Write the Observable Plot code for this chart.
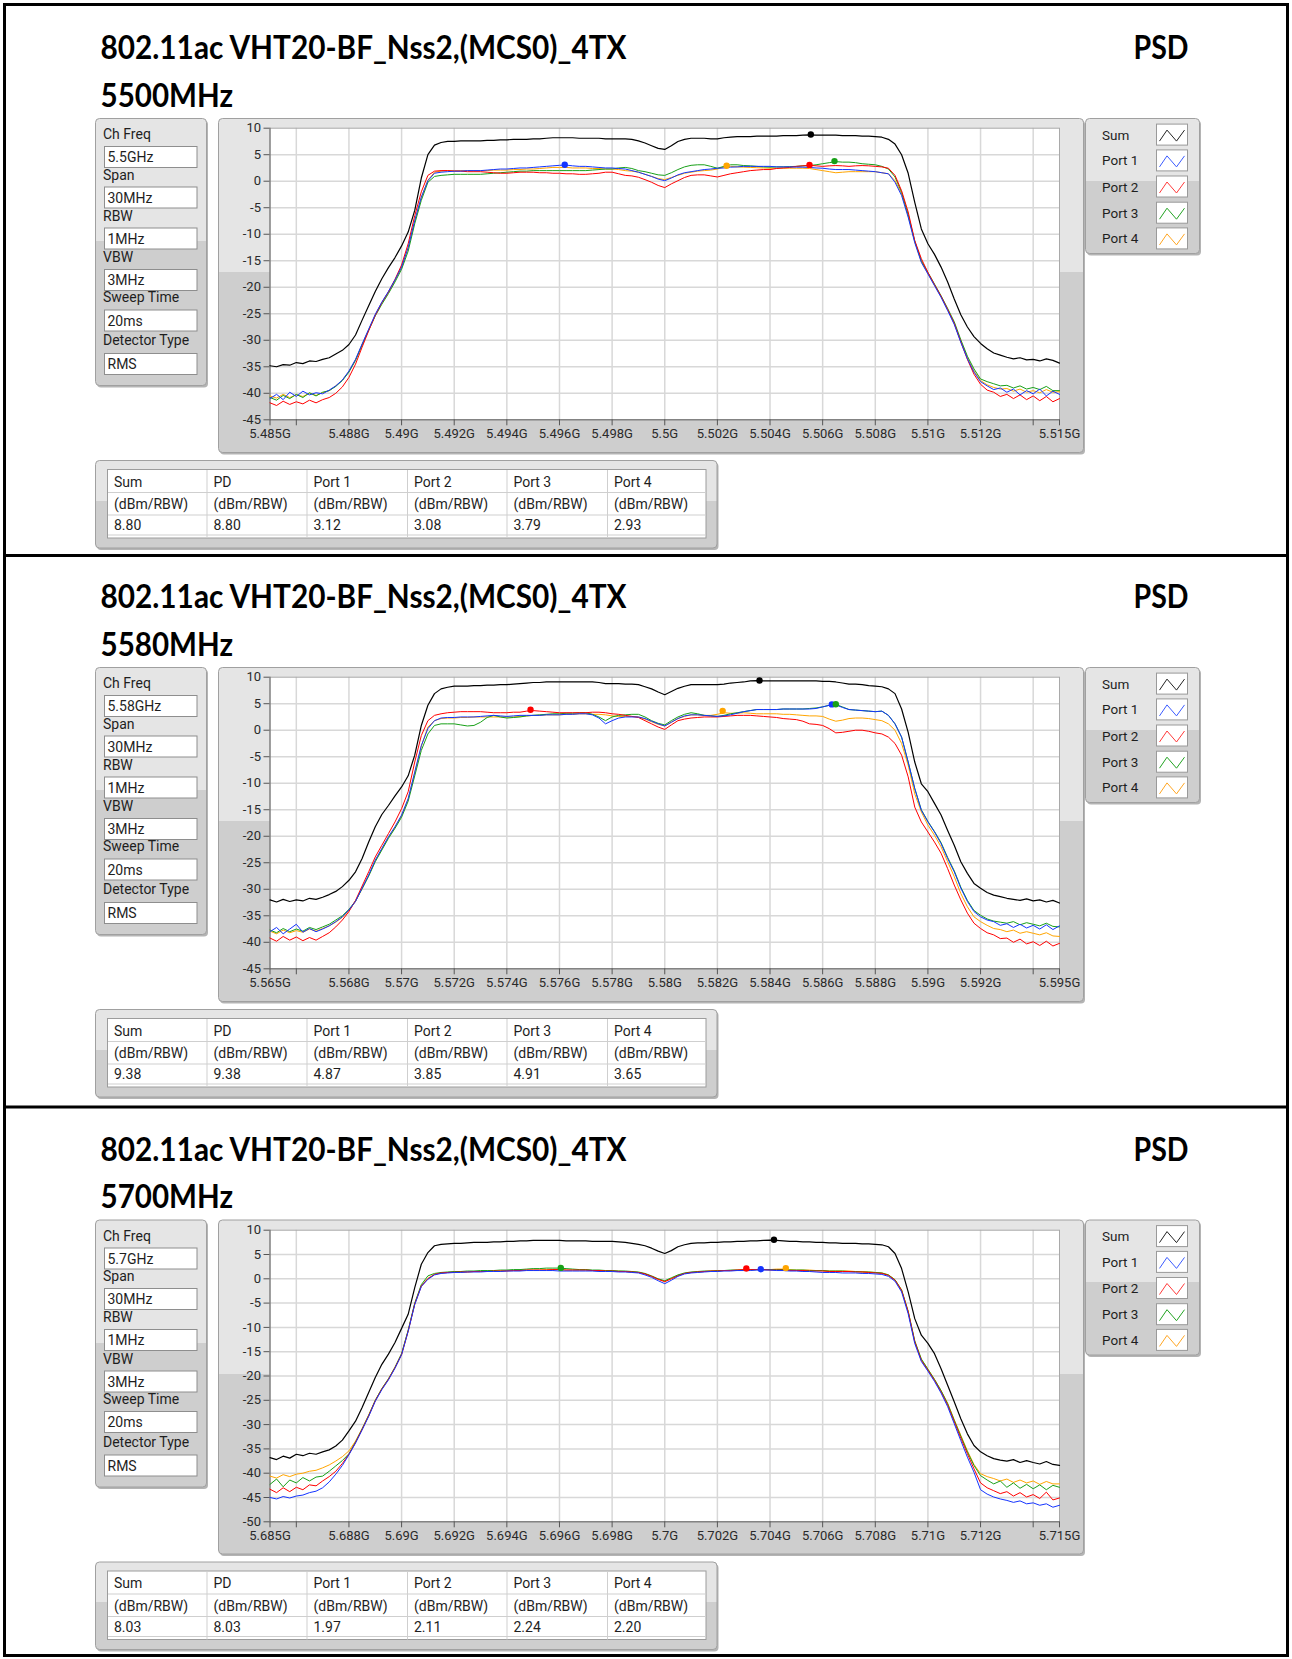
<!DOCTYPE html>
<html>
<head>
<meta charset="utf-8">
<script src="https://cdn.jsdelivr.net/npm/d3@7"></script>
<script src="https://cdn.jsdelivr.net/npm/@observablehq/plot@0.6"></script>
<style>
html,body{margin:0;padding:0;background:#fff;}
#page{position:relative;width:1292px;height:1659px;overflow:hidden;background:#fff;}
#decor{position:absolute;left:0;top:0;}
.chart{position:absolute;}
.chart svg{display:block;}
</style>
</head>
<body>
<div id="page"><svg id="decor" width="1292" height="1659"></svg></div>
<script>
// ---------------- DATA ----------------
// sweep grid: offset from channel centre in MHz, -15 ... +15, step 0.25 MHz
const offsets = d3.range(-15, 15.0001, 0.25);

const seriesNames = ["Sum", "Port 1", "Port 2", "Port 3", "Port 4"];
const seriesColors = ["#000000", "#1434ff", "#ff0000", "#18a018", "#ffa500"];
const swatchColors = ["#222222", "#3c5cff", "#ff3a3a", "#22a322", "#ffa623"];

const centerMHz = [5500, 5580, 5700];
const freqTitles = ["5500MHz", "5580MHz", "5700MHz"];
const chFreqText = ["5.5GHz", "5.58GHz", "5.7GHz"];
const yMins = [-45, -45, -50];

const xTickOffsets = [-15, -14, -12, -10, -8, -6, -4, -2, 0, 2, 4, 6, 8, 10, 12, 14, 15];
const xGridOffsets = [-14, -12, -10, -8, -6, -4, -2, 0, 2, 4, 6, 8, 10, 12, 14];
const yTicks45 = [10, 5, 0, -5, -10, -15, -20, -25, -30, -35, -40, -45];
const yTicks50 = [10, 5, 0, -5, -10, -15, -20, -25, -30, -35, -40, -45, -50];

const paramLabels = ["Ch Freq", "Span", "RBW", "VBW", "Sweep Time", "Detector Type"];
const paramRest = ["30MHz", "1MHz", "3MHz", "20ms", "RMS"];

const tableHeaders = ["Sum", "PD", "Port 1", "Port 2", "Port 3", "Port 4"];
const tableUnit = "(dBm/RBW)";
const table5500 = ["8.80", "8.80", "3.12", "3.08", "3.79", "2.93"];
const table5580 = ["9.38", "9.38", "4.87", "3.85", "4.91", "3.65"];
const table5700 = ["8.03", "8.03", "1.97", "2.11", "2.24", "2.20"];

// peak markers: offset (MHz) and level (dBm) for Sum, Port1..Port4
const markF5500 = [5.55, -3.8, 5.5, 6.45, 2.35];
const markV5500 = [8.80, 3.12, 3.08, 3.79, 2.93];
const markF5580 = [3.6, 6.35, -5.1, 6.5, 2.2];
const markV5580 = [9.38, 4.87, 3.85, 4.91, 3.65];
const markF5700 = [4.15, 3.65, 3.1, -3.95, 4.6];
const markV5700 = [8.03, 1.97, 2.11, 2.24, 2.20];

// ---- 5500 MHz ----
const sum5500 = [
-34.8,-35.0,-34.6,-34.7,-34.2,-34.4,-33.9,-34.0,
-33.6,-33.3,-32.6,-31.9,-30.8,-29.0,-26.2,-23.5,
-20.8,-18.4,-16.3,-14.4,-12.2,-9.6,-5.5,0.6,
5.0,6.8,7.3,7.5,7.5,7.6,7.6,7.6,
7.6,7.7,7.7,7.8,7.8,7.9,7.9,7.9,
8.0,8.0,8.1,8.2,8.2,8.2,8.2,8.1,
8.1,8.1,8.1,8.0,8.0,8.0,8.0,7.9,
7.6,7.2,6.7,6.2,6.0,6.7,7.5,7.9,
8.1,8.1,8.1,8.0,8.0,8.2,8.3,8.4,
8.4,8.4,8.5,8.5,8.5,8.5,8.6,8.6,
8.6,8.7,8.75,8.7,8.7,8.7,8.7,8.6,
8.6,8.6,8.5,8.5,8.4,8.3,7.9,7.0,
5.0,1.5,-4.0,-9.0,-11.8,-13.8,-16.2,-19.0,
-22.2,-25.2,-27.5,-29.3,-30.6,-31.6,-32.4,-32.8,
-33.2,-33.5,-33.3,-33.7,-33.6,-33.9,-33.5,-33.8,
-34.3];
const p1_5500 = [
-41.0,-40.2,-41.2,-39.8,-40.6,-39.6,-40.3,-39.9,
-40.1,-39.4,-38.6,-37.5,-35.8,-33.6,-30.7,-27.9,
-25.1,-22.8,-20.8,-18.6,-16.2,-12.5,-7.4,-3.0,
0.1,1.5,1.7,1.8,1.9,1.9,2.0,2.0,
2.0,2.1,2.2,2.3,2.3,2.4,2.5,2.5,
2.6,2.7,2.8,2.9,3.0,3.05,2.9,2.8,
2.8,2.7,2.6,2.5,2.5,2.4,2.3,2.0,
1.7,1.3,0.9,0.4,0.1,0.6,1.2,1.6,
1.8,2.0,2.2,2.3,2.45,2.5,2.65,2.7,
2.8,2.8,2.8,2.8,2.8,2.7,2.7,2.7,
2.65,2.65,2.6,2.5,2.45,2.3,2.2,2.2,
2.2,2.1,2.0,1.9,1.8,1.6,1.4,-0.2,
-2.7,-6.8,-11.6,-15.3,-17.5,-19.7,-21.9,-24.4,
-27.0,-30.4,-33.5,-36.0,-37.8,-38.6,-39.3,-39.0,
-39.8,-39.2,-40.3,-39.5,-40.1,-39.2,-40.5,-39.6,
-40.2];
const p2_5500 = [
-41.8,-42.3,-41.5,-42.1,-41.6,-42.0,-41.3,-41.8,
-41.2,-40.8,-40.0,-38.8,-37.0,-34.5,-31.3,-28.2,
-25.3,-22.9,-20.9,-18.5,-15.8,-11.8,-6.5,-2.0,
1.1,1.9,2.0,2.0,1.9,1.9,1.8,1.8,
1.8,1.7,1.6,1.5,1.5,1.6,1.7,1.7,
1.7,1.6,1.6,1.5,1.5,1.4,1.4,1.3,
1.3,1.4,1.5,1.7,1.7,1.4,1.1,1.0,
0.75,0.3,-0.2,-0.8,-1.2,-0.5,0.1,0.7,
1.1,1.2,1.2,1.0,0.8,1.1,1.4,1.6,
1.8,2.0,2.1,2.2,2.2,2.4,2.5,2.6,
2.8,2.9,3.0,2.9,2.8,2.9,2.95,2.9,
2.8,2.9,2.95,2.9,2.8,2.7,2.45,1.1,
-1.8,-5.8,-11.2,-14.6,-17.2,-19.5,-21.7,-24.2,
-26.8,-30.3,-33.6,-36.4,-38.3,-39.4,-39.8,-40.6,
-40.2,-41.0,-40.3,-41.2,-40.5,-41.4,-40.6,-41.6,
-41.0];
const p3_5500 = [
-40.8,-41.3,-40.4,-41.0,-40.2,-40.8,-39.9,-40.5,
-39.8,-39.5,-38.7,-37.6,-36.0,-33.8,-30.9,-28.1,
-25.4,-23.2,-21.2,-19.0,-16.6,-13.2,-8.0,-3.6,
-0.2,0.9,1.1,1.2,1.3,1.3,1.3,1.3,
1.3,1.4,1.5,1.6,1.7,1.8,1.9,1.9,
2.0,2.0,2.0,2.0,2.0,2.0,2.0,2.0,
2.0,2.1,2.2,2.3,2.3,2.5,2.6,2.4,
2.0,1.8,1.5,1.2,1.1,1.6,2.2,2.7,
3.0,3.1,3.1,2.8,2.45,2.8,3.1,3.1,
2.95,2.9,2.8,2.7,2.65,2.7,2.7,2.75,
2.8,2.9,2.95,3.1,3.3,3.5,3.7,3.6,
3.6,3.5,3.3,3.2,3.1,2.8,2.3,0.8,
-2.1,-6.3,-11.3,-15.0,-17.2,-19.4,-21.6,-24.0,
-26.5,-29.9,-33.0,-35.4,-37.3,-37.8,-38.2,-38.6,
-38.5,-39.0,-38.6,-39.2,-38.9,-39.3,-38.7,-39.5,
-39.5];
const p4_5500 = [
-40.5,-40.9,-40.2,-40.8,-40.3,-40.6,-40.0,-40.4,
-39.9,-39.5,-38.6,-37.5,-35.9,-33.7,-30.8,-28.0,
-25.2,-22.9,-20.9,-18.7,-16.3,-12.6,-7.5,-3.1,
0.2,1.7,1.9,2.0,2.0,2.0,2.0,2.0,
2.0,2.0,2.1,2.1,2.1,2.2,2.2,2.3,
2.3,2.4,2.5,2.6,2.6,2.6,2.5,2.5,
2.5,2.4,2.4,2.3,2.3,2.2,2.0,1.9,
1.7,1.3,0.9,0.5,0.3,0.7,1.1,1.5,
1.7,1.9,2.0,2.1,2.3,2.7,2.8,2.7,
2.65,2.6,2.55,2.5,2.45,2.45,2.45,2.45,
2.45,2.45,2.4,2.2,2.0,1.8,1.6,1.7,
1.8,1.8,1.8,1.8,1.8,1.6,1.4,0.1,
-2.4,-6.5,-11.4,-15.2,-17.4,-19.6,-21.8,-24.2,
-26.8,-30.2,-33.3,-35.8,-37.6,-38.4,-38.9,-39.2,
-39.1,-39.6,-39.2,-39.8,-39.5,-39.9,-39.3,-39.8,
-39.7];

// ---- 5580 MHz ----
const sum5580 = [
-32.0,-32.4,-31.9,-32.3,-32.0,-32.2,-31.7,-31.9,
-31.5,-31.0,-30.4,-29.5,-28.3,-26.7,-24.2,-21.1,
-18.2,-15.9,-14.2,-12.4,-10.7,-8.6,-4.7,0.9,
4.7,6.9,7.8,8.1,8.3,8.3,8.3,8.4,
8.4,8.5,8.5,8.6,8.6,8.7,8.8,8.9,
9.0,9.0,9.1,9.1,9.1,9.1,9.1,9.1,
9.1,9.1,9.0,8.8,8.8,8.8,8.7,8.7,
8.6,8.2,7.8,7.2,6.7,7.3,7.9,8.3,
8.6,8.6,8.6,8.6,8.6,8.7,8.9,9.0,
9.1,9.3,9.35,9.3,9.3,9.3,9.3,9.3,
9.3,9.3,9.3,9.3,9.2,9.2,9.1,8.9,
8.7,8.7,8.6,8.4,8.3,8.2,7.8,6.9,
4.0,-0.4,-6.0,-10.1,-11.6,-13.8,-16.0,-18.9,
-21.7,-24.8,-27.0,-28.9,-29.8,-30.6,-31.1,-31.4,
-31.7,-31.9,-32.1,-31.8,-32.2,-32.0,-32.4,-32.1,
-32.6];
const p1_5580 = [
-38.0,-37.2,-38.4,-37.5,-36.6,-38.1,-37.4,-38.0,
-37.5,-36.9,-36.1,-35.2,-33.9,-32.3,-29.8,-27.3,
-24.5,-22.3,-20.1,-18.2,-16.0,-12.9,-7.9,-2.9,
0.3,1.8,2.3,2.4,2.4,2.5,2.5,2.5,
2.6,2.7,2.8,2.7,2.6,2.7,2.8,2.8,
2.8,2.8,2.9,2.9,2.9,3.0,3.0,3.1,
3.1,2.9,2.3,1.2,1.8,2.3,2.5,2.5,
2.5,2.2,1.7,1.2,0.8,1.5,2.2,2.7,
2.9,2.9,2.8,2.7,2.6,2.7,2.9,3.2,
3.5,3.7,3.9,3.9,3.9,3.9,4.0,4.0,
4.0,4.0,4.0,4.1,4.4,4.7,4.8,4.3,
3.9,3.8,3.7,3.6,3.5,3.6,2.8,1.2,
-1.3,-6.0,-11.0,-15.1,-17.3,-19.2,-21.4,-24.2,
-26.7,-29.8,-32.3,-34.2,-35.2,-35.8,-36.1,-36.8,
-36.5,-37.2,-36.6,-37.3,-36.8,-37.5,-36.7,-37.6,
-36.9];
const p2_5580 = [
-39.2,-39.8,-38.9,-39.6,-39.0,-39.7,-39.1,-39.6,
-38.9,-38.2,-37.1,-35.8,-34.2,-32.1,-29.4,-26.7,
-23.9,-21.7,-19.5,-17.3,-14.8,-11.6,-6.0,-1.0,
1.8,2.8,3.1,3.3,3.4,3.5,3.5,3.5,
3.5,3.4,3.3,3.3,3.3,3.4,3.4,3.6,
3.7,3.6,3.5,3.4,3.3,3.3,3.3,3.3,
3.3,3.4,3.4,3.3,3.1,3.0,2.8,2.6,
2.4,1.8,1.2,0.6,0.15,1.0,1.8,2.1,
2.3,2.4,2.5,2.5,2.5,2.6,2.7,2.8,
2.8,2.8,2.7,2.6,2.5,2.4,2.2,2.1,
2.0,1.7,1.2,1.1,0.9,0.3,-0.5,-0.4,
-0.2,0.0,0.0,-0.2,-0.5,-0.7,-1.3,-2.5,
-4.7,-8.8,-14.5,-17.3,-19.2,-21.1,-23.2,-26.1,
-29.2,-32.0,-34.5,-36.4,-37.4,-38.2,-38.6,-39.3,
-39.2,-40.0,-39.4,-40.3,-39.9,-40.6,-39.8,-40.7,
-40.2];
const p3_5580 = [
-37.7,-38.2,-37.4,-38.0,-37.5,-37.9,-37.2,-37.6,
-37.1,-36.6,-35.8,-35.0,-33.8,-32.2,-29.9,-27.5,
-24.8,-22.6,-20.4,-18.5,-16.4,-13.4,-8.6,-3.8,
-0.7,0.9,1.2,1.2,1.2,1.0,0.8,0.9,
1.5,2.4,2.8,2.5,2.3,2.4,2.5,2.7,
2.8,2.9,3.0,3.1,3.1,3.2,3.2,3.3,
3.3,3.0,2.5,1.8,2.5,2.8,2.9,3.0,
3.0,2.5,1.8,1.3,1.0,1.8,2.5,3.0,
3.3,3.1,2.8,2.7,2.6,2.8,3.1,3.3,
3.5,3.7,3.9,3.9,3.9,3.9,4.0,4.0,
4.0,4.0,4.1,4.2,4.4,4.7,4.85,4.4,
3.9,3.8,3.7,3.6,3.5,3.6,2.8,1.2,
-1.3,-6.0,-11.0,-15.0,-17.2,-19.1,-21.2,-24.0,
-26.5,-29.6,-32.1,-34.0,-34.9,-35.6,-36.0,-36.2,
-36.4,-36.1,-36.7,-36.3,-36.6,-36.9,-36.4,-37.0,
-37.1];
const p4_5580 = [
-37.9,-38.4,-37.7,-38.2,-37.8,-38.1,-37.5,-37.9,
-37.4,-36.9,-36.2,-35.3,-34.0,-32.3,-29.9,-27.4,
-24.6,-22.4,-20.2,-18.3,-16.1,-13.0,-8.0,-3.0,
0.6,1.8,2.2,2.3,2.3,2.4,2.4,2.5,
2.5,2.5,2.5,2.5,2.5,2.5,2.6,2.7,
2.8,2.8,2.9,2.9,2.9,3.0,3.0,3.1,
3.1,3.0,3.0,2.9,2.7,2.6,2.6,2.6,
2.5,2.1,1.6,1.1,0.8,1.5,2.2,2.6,
2.9,2.9,2.8,2.8,3.0,3.3,3.2,3.2,
3.3,3.2,3.1,3.1,3.1,3.1,3.0,3.0,
2.9,2.8,2.7,2.7,2.6,2.1,1.7,1.9,
2.2,2.3,2.3,2.2,2.0,1.8,1.2,0.0,
-2.5,-6.6,-12.0,-15.4,-17.9,-19.8,-22.0,-24.8,
-27.6,-30.8,-33.3,-35.2,-36.1,-36.8,-37.4,-37.6,
-38.0,-37.7,-38.3,-38.0,-38.3,-38.6,-38.2,-38.8,
-38.9];

// ---- 5700 MHz ----
const sum5700 = [
-36.8,-37.2,-36.5,-36.9,-36.1,-36.4,-35.9,-36.1,
-35.6,-35.2,-34.4,-33.2,-31.3,-29.3,-26.5,-23.4,
-20.3,-17.6,-15.5,-13.1,-10.2,-7.3,-1.8,3.0,
5.4,6.8,7.1,7.2,7.3,7.3,7.4,7.5,
7.5,7.5,7.6,7.6,7.7,7.7,7.8,7.8,
7.9,7.9,7.9,7.9,7.9,7.8,7.8,7.8,
7.8,7.7,7.7,7.7,7.7,7.6,7.5,7.3,
7.1,6.8,6.3,5.7,5.2,5.8,6.6,7.0,
7.3,7.4,7.4,7.5,7.5,7.6,7.6,7.7,
7.7,7.8,7.8,7.9,7.95,7.9,7.8,7.7,
7.7,7.6,7.6,7.5,7.5,7.4,7.4,7.3,
7.3,7.3,7.2,7.2,7.1,7.0,6.6,5.2,
2.1,-2.7,-8.2,-11.6,-13.3,-15.4,-18.5,-21.9,
-25.3,-28.8,-31.9,-34.3,-35.6,-36.4,-37.0,-37.3,
-37.5,-37.2,-37.8,-37.4,-37.8,-38.1,-37.6,-38.2,
-38.4];
const p1_5700 = [
-45.0,-45.3,-44.8,-45.1,-44.7,-44.5,-44.0,-43.7,
-43.0,-41.8,-40.2,-38.4,-36.2,-33.8,-31.1,-28.3,
-25.2,-22.8,-20.8,-18.4,-15.6,-10.8,-5.3,-1.6,
-0.1,0.8,1.1,1.2,1.3,1.3,1.4,1.4,
1.4,1.5,1.5,1.5,1.6,1.6,1.6,1.7,
1.7,1.7,1.7,1.7,1.6,1.6,1.6,1.6,
1.6,1.6,1.5,1.5,1.5,1.4,1.4,1.3,
1.2,0.8,0.3,-0.4,-1.0,-0.3,0.5,1.0,
1.2,1.3,1.4,1.5,1.5,1.6,1.6,1.7,
1.7,1.7,1.8,1.8,1.8,1.7,1.7,1.6,
1.6,1.5,1.5,1.4,1.3,1.3,1.3,1.2,
1.2,1.2,1.1,1.1,1.0,0.9,0.5,-0.5,
-2.7,-7.2,-13.3,-17.0,-19.0,-21.1,-23.5,-26.3,
-29.8,-33.3,-36.7,-39.8,-43.4,-44.3,-44.9,-45.3,
-45.6,-46.0,-45.7,-46.3,-46.1,-46.6,-46.3,-47.0,
-46.6];
const p2_5700 = [
-43.3,-44.0,-43.0,-43.8,-42.9,-43.4,-42.4,-42.6,
-41.6,-40.7,-39.6,-38.0,-36.1,-33.7,-31.0,-28.2,
-25.1,-22.7,-20.7,-18.3,-15.6,-10.8,-5.2,-1.5,
0.0,0.9,1.2,1.3,1.35,1.4,1.4,1.5,
1.5,1.5,1.6,1.6,1.6,1.7,1.7,1.8,
1.8,1.8,1.8,1.9,1.9,1.8,1.8,1.8,
1.8,1.7,1.7,1.6,1.6,1.5,1.5,1.4,
1.3,1.0,0.5,-0.1,-0.6,0.0,0.6,1.1,
1.3,1.4,1.5,1.6,1.6,1.7,1.7,1.8,
1.9,1.9,1.9,1.9,1.8,1.8,1.8,1.7,
1.7,1.7,1.6,1.6,1.6,1.5,1.5,1.5,
1.5,1.4,1.4,1.3,1.2,1.1,0.7,-0.3,
-2.4,-6.8,-13.0,-16.8,-18.8,-20.9,-23.3,-26.0,
-29.4,-32.8,-36.0,-39.1,-42.0,-43.0,-43.6,-44.2,
-43.8,-44.7,-44.0,-44.9,-44.4,-45.2,-43.9,-45.5,
-45.1];
const p3_5700 = [
-42.3,-41.2,-42.8,-41.4,-42.0,-40.9,-41.6,-40.8,
-40.6,-39.6,-38.5,-37.4,-36.0,-33.6,-30.9,-28.1,
-25.0,-22.6,-20.6,-18.2,-15.4,-10.6,-5.0,-1.2,
0.6,1.1,1.3,1.4,1.5,1.5,1.6,1.6,
1.7,1.7,1.7,1.8,1.8,1.9,1.9,2.0,
2.1,2.1,2.2,2.2,2.2,2.1,2.0,1.9,
1.9,1.8,1.8,1.7,1.7,1.6,1.6,1.5,
1.4,1.1,0.6,0.0,-0.4,0.2,0.8,1.2,
1.4,1.5,1.6,1.6,1.7,1.7,1.8,1.8,
1.8,1.9,1.9,1.9,1.9,1.9,1.9,1.8,
1.8,1.8,1.7,1.7,1.7,1.6,1.6,1.6,
1.5,1.5,1.4,1.4,1.3,1.2,0.8,-0.2,
-2.3,-6.7,-12.8,-16.5,-18.6,-20.7,-23.0,-25.7,
-29.1,-32.4,-35.6,-38.4,-40.5,-41.4,-42.2,-41.6,
-42.9,-42.0,-43.1,-42.3,-43.2,-42.4,-43.4,-42.5,
-42.9];
const p4_5700 = [
-40.6,-41.0,-40.3,-40.7,-40.2,-40.0,-39.6,-39.4,
-38.9,-38.3,-37.5,-36.6,-35.4,-33.4,-30.8,-28.0,
-25.0,-22.6,-20.6,-18.2,-15.4,-10.6,-5.1,-1.4,
0.1,0.9,1.2,1.3,1.35,1.4,1.4,1.5,
1.5,1.5,1.6,1.6,1.7,1.7,1.7,1.8,
1.8,1.8,1.9,1.9,1.9,1.8,1.8,1.8,
1.8,1.7,1.7,1.7,1.6,1.6,1.5,1.4,
1.3,1.0,0.5,-0.1,-0.5,0.1,0.7,1.1,
1.3,1.4,1.5,1.6,1.6,1.7,1.7,1.8,
1.8,1.8,1.9,1.9,1.9,2.0,2.0,1.9,
1.8,1.8,1.8,1.7,1.7,1.6,1.6,1.6,
1.6,1.5,1.5,1.4,1.3,1.2,0.8,-0.2,
-2.3,-6.7,-12.8,-16.6,-18.6,-20.7,-23.0,-25.6,
-29.0,-32.2,-35.4,-38.2,-40.1,-40.7,-41.1,-41.6,
-41.2,-41.9,-41.4,-42.0,-41.6,-42.3,-41.7,-42.2,
-42.2];

// ---------------- LAYOUT ----------------
const panelOffsets = [0, 549, 1101.5];
const panels = [
  {fc: centerMHz[0], title: freqTitles[0], ch: chFreqText[0], ymin: yMins[0], yTicks: yTicks45,
   series: [sum5500, p1_5500, p2_5500, p3_5500, p4_5500], mf: markF5500, mv: markV5500, table: table5500},
  {fc: centerMHz[1], title: freqTitles[1], ch: chFreqText[1], ymin: yMins[1], yTicks: yTicks45,
   series: [sum5580, p1_5580, p2_5580, p3_5580, p4_5580], mf: markF5580, mv: markV5580, table: table5580},
  {fc: centerMHz[2], title: freqTitles[2], ch: chFreqText[2], ymin: yMins[2], yTicks: yTicks50,
   series: [sum5700, p1_5700, p2_5700, p3_5700, p4_5700], mf: markF5700, mv: markV5700, table: table5700}
];

const SMALL = "Roboto, 'Noto Sans', sans-serif";
const BIG = "Lato, 'Open Sans', sans-serif";

const page = document.getElementById("page");
const decor = d3.select("#decor");
const defs = decor.append("defs");
const grad = defs.append("linearGradient").attr("id", "bg").attr("x1", 0).attr("y1", 0).attr("x2", 0).attr("y2", 1);
[[0, "#e5e5e5"], [0.46, "#e5e5e5"], [0.46, "#cecece"], [1, "#cecece"]]
  .forEach(([o, c]) => grad.append("stop").attr("offset", o).attr("stop-color", c));

function txt(g, x, y, s, size, opt = {}) {
  const t = g.append("text").attr("x", x).attr("y", y).text(s)
    .attr("font-family", opt.family || SMALL).attr("font-size", size)
    .attr("fill", opt.fill || "#1e1e1e");
  if (opt.weight) t.attr("font-weight", opt.weight);
  if (opt.len) t.attr("textLength", opt.len).attr("lengthAdjust", "spacingAndGlyphs");
  if (opt.anchor) t.attr("text-anchor", opt.anchor);
  return t;
}
function box(g, x, y, w, h) {
  g.append("rect").attr("x", x + 1.5).attr("y", y + 2).attr("width", w).attr("height", h)
    .attr("rx", 4).attr("fill", "#b4b4b4");
  g.append("rect").attr("x", x).attr("y", y).attr("width", w).attr("height", h)
    .attr("rx", 4).attr("fill", "url(#bg)").attr("stroke", "#a0a0a0");
}

// outer border + dividers
decor.append("rect").attr("x", 4.5).attr("y", 4.5).attr("width", 1283).attr("height", 1651)
  .attr("fill", "none").attr("stroke", "#000").attr("stroke-width", 3);
[555.5, 1107].forEach(y => decor.append("line").attr("x1", 4).attr("x2", 1288).attr("y1", y).attr("y2", y)
  .attr("stroke", "#000").attr("stroke-width", 3));

function fmtG(d, fc) {
  const o = Math.round(d - fc);
  if (Math.abs(o) === 14) return "";
  return `${+(d / 1000).toFixed(3)}G`;
}

panels.forEach((p, k) => {
  const oy = panelOffsets[k];
  const g = decor.append("g").attr("transform", `translate(0,${oy})`);

  // titles
  txt(g, 100.5, 59, "802.11ac VHT20-BF_Nss2,(MCS0)_4TX", 33, {family: BIG, weight: 700, fill: "#000", len: 526});
  txt(g, 100.5, 106.5, p.title, 33, {family: BIG, weight: 700, fill: "#000", len: 132.5});
  txt(g, 1133.5, 59, "PSD", 33, {family: BIG, weight: 700, fill: "#000", len: 55});

  // parameter box
  box(g, 95.5, 118.5, 111, 267);
  const labY = [134, 174.5, 215.5, 257, 297, 340];
  const fldY = [146.5, 187, 228, 269.5, 310, 353.5];
  const vals = [p.ch, ...paramRest];
  paramLabels.forEach((lab, i) => {
    txt(g, 103, labY[i] + 5, lab, 14);
    g.append("rect").attr("x", 104.5).attr("y", fldY[i]).attr("width", 92.5).attr("height", 21)
      .attr("fill", "#fff").attr("stroke", "#8e8e8e");
    txt(g, 107.5, fldY[i] + 15.5, vals[i], 14);
  });

  // chart frame
  box(g, 218.5, 118.5, 865, 334);

  // legend
  box(g, 1085.5, 118.5, 114, 135);
  const rowY = [134.6, 160.4, 186.5, 212.7, 238.4];
  seriesNames.forEach((n, i) => {
    txt(g, 1102, rowY[i] + 5, n, 13.5);
    const sx = 1156.5, sy = rowY[i] - 10.5;
    g.append("rect").attr("x", sx).attr("y", sy).attr("width", 31).attr("height", 21)
      .attr("fill", "#fff").attr("stroke", "#9a9a9a");
    g.append("path").attr("d", `M${sx + 3},${sy + 17} L${sx + 10.5},${sy + 6} L${sx + 20},${sy + 17} L${sx + 28},${sy + 6}`)
      .attr("fill", "none").attr("stroke", swatchColors[i]).attr("stroke-width", 1);
  });

  // table
  box(g, 95.5, 460.5, 621.5, 87.5);
  g.append("rect").attr("x", 107.5).attr("y", 469.5).attr("width", 598.5).attr("height", 68.5)
    .attr("fill", "#fff").attr("stroke", "#9c9c9c");
  const colX = [107.5, 207, 307, 407.5, 507, 607.5];
  [492.5, 515, 535].forEach(y => g.append("line").attr("x1", 108).attr("x2", 706).attr("y1", y).attr("y2", y)
    .attr("stroke", "#cfcfcf"));
  colX.slice(1).forEach(x => g.append("line").attr("x1", x).attr("x2", x).attr("y1", 470).attr("y2", 538)
    .attr("stroke", "#cfcfcf"));
  tableHeaders.forEach((h, i) => {
    txt(g, colX[i] + 6.5, 486.5, h, 14);
    txt(g, colX[i] + 6.5, 509, tableUnit, 14);
    txt(g, colX[i] + 6.5, 530, p.table[i], 14);
  });

  // chart (Observable Plot)
  const xs = offsets.map(o => p.fc + o);
  const rows = arr => arr.map((v, i) => ({f: xs[i], v}));
  const drawOrder = [0, 4, 3, 2, 1];
  const marks = [
    Plot.frame({fill: "#ffffff", stroke: "none"}),
    Plot.gridX(xGridOffsets.map(o => p.fc + o), {stroke: "#d8d8d8", strokeOpacity: 1, strokeWidth: 1.5}),
    Plot.gridY(p.yTicks.filter(t => t !== 10 && t !== p.ymin), {stroke: "#d8d8d8", strokeOpacity: 1, strokeWidth: 1.5}),
    Plot.frame({stroke: "#a9a9a9", fill: "none"}),
    Plot.ruleX([p.fc - 15], {stroke: "#6a6a6a"}),
    Plot.ruleY([p.ymin], {stroke: "#6a6a6a"}),
    Plot.axisX(xTickOffsets.map(o => p.fc + o), {
      tickSize: 6, tickPadding: 3, stroke: "#555", fill: "#2a2a2a", fontSize: 13,
      tickFormat: d => fmtG(d, p.fc), label: null
    }),
    Plot.axisY(p.yTicks, {
      tickSize: 6, tickPadding: 3, stroke: "#555", fill: "#2a2a2a", fontSize: 13,
      tickFormat: d => String(d), label: null
    })
  ];
  drawOrder.forEach(i => {
    marks.push(Plot.line(rows(p.series[i]), {x: "f", y: "v", stroke: seriesColors[i], strokeWidth: i === 0 ? 1.2 : 1}));
  });
  const dots = p.mf.map((o, i) => ({f: p.fc + o, v: p.mv[i], c: seriesColors[i]}));
  marks.push(Plot.dot(dots, {x: "f", y: "v", fill: d => d.c, r: 3.2, stroke: "none"}));

  const chart = Plot.plot({
    width: 865, height: 335,
    marginLeft: 51.5, marginRight: 24, marginTop: 9.7, marginBottom: 33.7,
    style: {background: "transparent", fontFamily: SMALL, fontSize: "13px", color: "#333", overflow: "visible"},
    x: {domain: [p.fc - 15, p.fc + 15], label: null},
    y: {domain: [p.ymin, 10], label: null},
    marks
  });
  const div = document.createElement("div");
  div.className = "chart";
  div.style.left = "218px";
  div.style.top = (118 + oy) + "px";
  div.appendChild(chart);
  page.appendChild(div);
});
</script>
</body>
</html>
